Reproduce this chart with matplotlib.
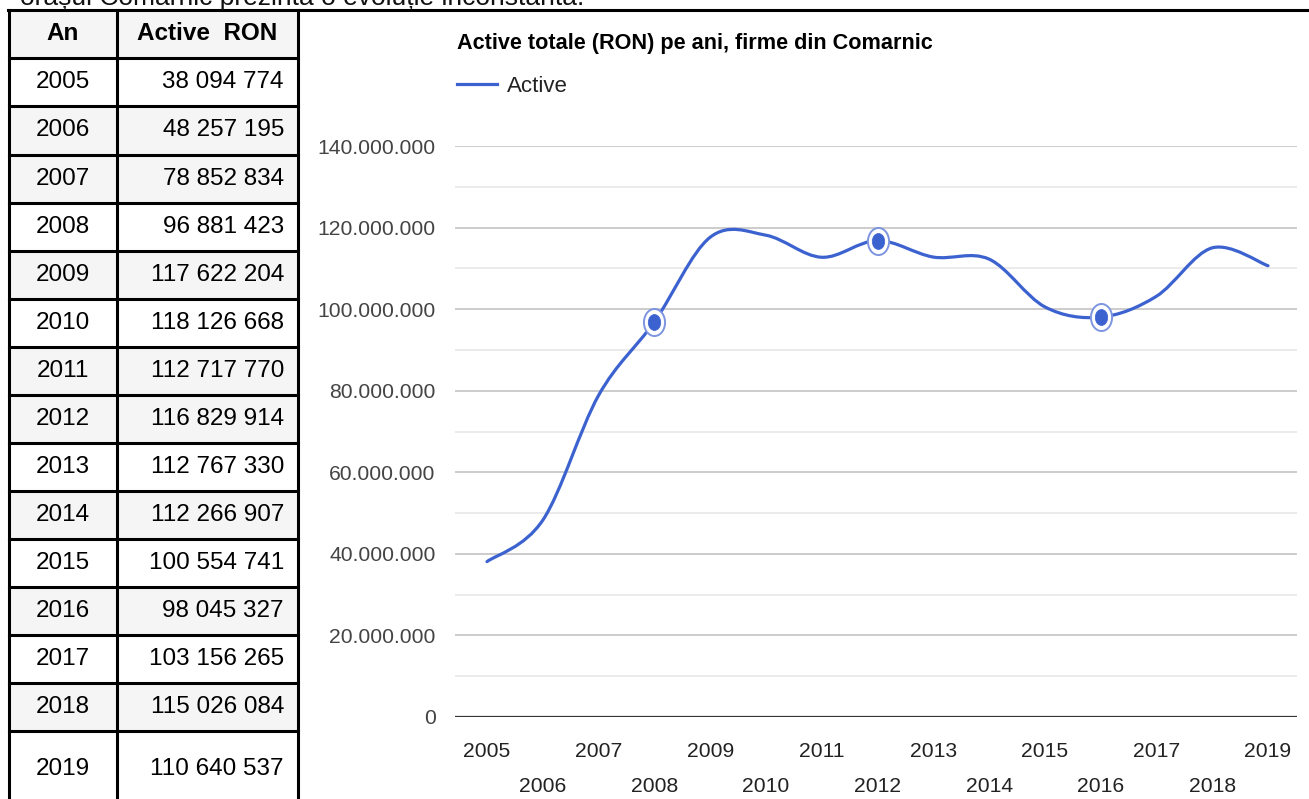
import matplotlib
matplotlib.use("Agg")
import matplotlib.pyplot as plt
from matplotlib import font_manager
from matplotlib.path import Path
from matplotlib.patches import PathPatch, Rectangle
from matplotlib.lines import Line2D
from matplotlib.transforms import Affine2D
import numpy as np

# ---------------- data ----------------
years = [2005, 2006, 2007, 2008, 2009, 2010, 2011, 2012, 2013, 2014,
         2015, 2016, 2017, 2018, 2019]
active = [38094774, 48257195, 78852834, 96881423, 117622204, 118126668,
          112717770, 116829914, 112767330, 112266907, 100554741, 98045327,
          103156265, 115026084, 110640537]
highlight_years = [2008, 2012, 2016]
yticks = [0, 20000000, 40000000, 60000000, 80000000, 100000000, 120000000, 140000000]
table_header = ["An", "Active  RON"]
chart_title = "Active totale (RON) pe ani, firme din Comarnic"
series_name = "Active"
intro_text = "orașul Comarnic prezintă o evoluție inconstantă."

# ---------------- fonts ----------------
def has_font(name):
    try:
        font_manager.findfont(font_manager.FontProperties(family=name),
                              fallback_to_default=False)
        return True
    except Exception:
        return False

NARROW = "Liberation Sans Narrow" if has_font("Liberation Sans Narrow") else "Liberation Sans"
REG = "Liberation Sans"
plt.rcParams['font.family'] = [REG, 'DejaVu Sans']

W, H = 1309, 799
fig = plt.figure(figsize=(W / 100, H / 100), dpi=100)
fig.patch.set_facecolor("white")

def fx(x):
    return x / W

def fy(y):
    return 1 - y / H

BLUE = "#3c62d0"

# ---------------- top clipped sentence ----------------
fig.text(fx(20), fy(5), intro_text, fontsize=19, family=[NARROW, 'DejaVu Sans'],
         color="#111111", va="baseline", ha="left")

# ---------------- table ----------------
col_x = [9, 117, 298]
row_edges = [10, 58, 106, 155, 203, 251, 299, 347, 395, 443, 491, 539, 587,
             635, 683, 731, 805]
gray_rows = {0, 2, 3, 5, 7, 8, 10, 12, 14}  # row index incl. header
for r in range(len(row_edges) - 1):
    if r in gray_rows:
        fig.add_artist(Rectangle((fx(col_x[0]), fy(row_edges[r + 1])),
                                 fx(col_x[2] - col_x[0]),
                                 (row_edges[r + 1] - row_edges[r]) / H,
                                 transform=fig.transFigure, facecolor="#f5f5f5",
                                 edgecolor="none", zorder=0))
fig.add_artist(Line2D([fx(col_x[0] - 1), 1.0], [fy(10), fy(10)],
                      transform=fig.transFigure, color="black", lw=2.2))
for y in row_edges[1:-1]:
    fig.add_artist(Line2D([fx(col_x[0]), fx(col_x[2])], [fy(y), fy(y)],
                          transform=fig.transFigure, color="black", lw=2.2))
for x in col_x:
    fig.add_artist(Line2D([fx(x), fx(x)], [fy(10), 0],
                          transform=fig.transFigure, color="black", lw=2.2))

def row_center(r):
    if r == len(row_edges) - 2:
        return 769
    return (row_edges[r] + row_edges[r + 1]) / 2

fs_tab = 17.5
fig.text(fx(63), fy(row_center(0)), table_header[0], ha="center", va="center",
         fontsize=fs_tab, fontweight="bold", color="black")
fig.text(fx(207), fy(row_center(0)), table_header[1], ha="center", va="center",
         fontsize=fs_tab, fontweight="bold", color="black")
for i, (yr, v) in enumerate(zip(years, active)):
    r = i + 1
    fig.text(fx(63), fy(row_center(r)), str(yr), ha="center", va="center",
             fontsize=fs_tab, color="black")
    fig.text(fx(284), fy(row_center(r)), f"{v:,}".replace(",", " "),
             ha="right", va="center", fontsize=fs_tab, color="black")

# ---------------- chart ----------------
x_left, x_right = 455, 1297
y_top, y_bot = 146, 717
px_per_year = (1268 - 487) / 14.0
xmin = years[0] - (487 - x_left) / px_per_year
xmax = years[-1] + (x_right - 1268) / px_per_year

ax = fig.add_axes([fx(x_left), fy(y_bot), (x_right - x_left) / W, (y_bot - y_top) / H])
ax.set_xlim(xmin, xmax)
ax.set_ylim(0, yticks[-1])
for s in ax.spines.values():
    s.set_visible(False)
ax.set_facecolor("none")

LAB = 15.2
ax.set_yticks(yticks)
ax.set_yticklabels([f"{t:,}".replace(",", ".") for t in yticks])
ax.set_yticks([t + 10000000 for t in yticks[:-1]], minor=True)
ax.yaxis.grid(True, which="major", color="#cccccc", lw=1.4)
ax.yaxis.grid(True, which="minor", color="#ebebeb", lw=1.4)
ax.set_axisbelow(True)
ax.tick_params(axis="y", which="both", length=0, pad=14, labelsize=LAB,
               labelcolor="#444444")
for lab in ax.get_yticklabels():
    lab.set_family([NARROW, "DejaVu Sans"])

ax.set_xticks(years[::2])
ax.set_xticklabels([str(y) for y in years[::2]])
ax.set_xticks(years[1::2], minor=True)
ax.set_xticklabels([str(y) for y in years[1::2]], minor=True)
ax.tick_params(axis="x", which="major", length=0, pad=18, labelsize=LAB,
               labelcolor="#222222")
ax.tick_params(axis="x", which="minor", length=0, pad=43.5, labelsize=LAB,
               labelcolor="#222222")
for lab in ax.get_xticklabels() + ax.get_xticklabels(minor=True):
    lab.set_family([NARROW, "DejaVu Sans"])

ax.axhline(0, color="#333333", lw=1.6, zorder=2)

# smooth curve (Catmull-Rom -> cubic Bezier) through the data points
P = np.column_stack([np.array(years, float), np.array(active, float)])
n = len(P)
verts = [tuple(P[0])]
codes = [Path.MOVETO]
for i in range(n - 1):
    p0 = P[i - 1] if i > 0 else P[i]
    p1 = P[i]
    p2 = P[i + 1]
    p3 = P[i + 2] if i + 2 < n else P[i + 1]
    c1 = p1 + (p2 - p0) / 6.0
    c2 = p2 - (p3 - p1) / 6.0
    verts += [tuple(c1), tuple(c2), tuple(p2)]
    codes += [Path.CURVE4] * 3
curve = PathPatch(Path(verts, codes), facecolor="none", edgecolor=BLUE,
                  lw=2.3, zorder=3, capstyle="round", joinstyle="round")
ax.add_patch(curve)

# highlighted points (elliptic because the picture is horizontally squeezed)
ell = Path.unit_circle().transformed(Affine2D().scale(0.78, 1.0))
hx = [years[years.index(y)] for y in highlight_years]
hy = [active[years.index(y)] for y in highlight_years]
ax.plot(hx, hy, linestyle="none", marker=ell, markersize=19.5,
        markerfacecolor="white", markeredgecolor="#7d95e0", markeredgewidth=1.4,
        zorder=4, clip_on=False)
ax.plot(hx, hy, linestyle="none", marker=ell, markersize=11.5,
        markerfacecolor=BLUE, markeredgecolor=BLUE, markeredgewidth=0.5,
        zorder=5, clip_on=False)

# title and legend
fig.text(fx(457), fy(43), chart_title, ha="left", va="center", fontsize=15.6,
         fontweight="bold", color="black", family=[NARROW, "DejaVu Sans"])
leg_handle = Line2D([], [], color=BLUE, lw=2.3)
LEGFS = 16
leg = ax.legend([leg_handle], [series_name], loc="center left",
                bbox_to_anchor=(fx(457), fy(86)), bbox_transform=fig.transFigure,
                frameon=False, handlelength=40 / (LEGFS * 100 / 72),
                handletextpad=10 / (LEGFS * 100 / 72),
                borderpad=0, borderaxespad=0,
                prop={"family": [NARROW, "DejaVu Sans"], "size": LEGFS})
for t in leg.get_texts():
    t.set_color("#222222")

fig.savefig("out.png", dpi=100, facecolor="white")
